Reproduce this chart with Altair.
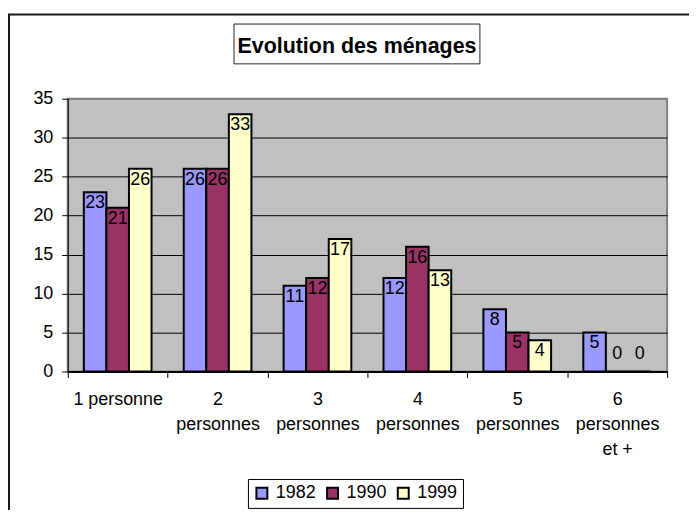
import altair as alt
import pandas as pd

categories = ["1 personne", "2|personnes", "3|personnes", "4|personnes", "5|personnes", "6|personnes|et +"]
years = ["1982", "1990", "1999"]
v1982 = [23, 26, 11, 12, 8, 5]
v1990 = [21, 26, 12, 16, 5, 0]
v1999 = [26, 33, 17, 13, 4, 0]
colors = ["#9999FF", "#993366", "#FFFFCC"]
y_ticks = [0, 5, 10, 15, 20, 25, 30, 35]
title_text = "Evolution des ménages"

rows = []
for i, c in enumerate(categories):
    for yr, vals in zip(years, [v1982, v1990, v1999]):
        rows.append({"cat": c, "year": yr, "value": vals[i]})
df = pd.DataFrame(rows)

FONT = "Liberation Sans"

x_enc = alt.X(
    "cat:N", sort=categories, title=None,
    scale=alt.Scale(paddingInner=0, paddingOuter=0),
    axis=alt.Axis(
        labelAngle=0, labelExpr="split(datum.label, '|')",
        labelFontSize=18, labelFont=FONT, labelColor="black",
        labelLineHeight=25, tickBand="extent", tickSize=6, labelPadding=13,
        domainColor="black", domainWidth=2, tickColor="black", tickWidth=1,
        labelLimit=300,
    ),
)
xoff_enc = alt.XOffset("year:N", sort=years, scale=alt.Scale(paddingInner=0, paddingOuter=0.713))
y_scale = alt.Scale(domain=[0, 35], nice=False)
y_axis = alt.Axis(
    values=y_ticks, title=None, tickSize=6, labelPadding=9, grid=True,
    gridColor={"condition": {"test": "datum.value === 35", "value": "#808080"}, "value": "black"},
    gridWidth=1, labelFontSize=18, labelFont=FONT, labelColor="black",
    domainColor="black", domainWidth=1, tickColor="black",
)

base = alt.Chart(df)

bars = base.mark_bar(stroke="black", strokeWidth=2).encode(
    x=x_enc,
    xOffset=xoff_enc,
    y=alt.Y("value:Q", scale=y_scale, axis=y_axis),
    color=alt.Color(
        "year:N", sort=years, scale=alt.Scale(domain=years, range=colors),
        legend=alt.Legend(
            title=None, orient="none", legendX=181, legendY=382,
            direction="horizontal", symbolType="square", symbolSize=121,
            symbolStrokeColor="black", symbolStrokeWidth=2,
            labelFontSize=18, labelFont=FONT, labelColor="black",
            labelOffset=5, columnPadding=6, padding=5,
            strokeColor="black", fillColor="white",
        ),
    ),
)

labels = base.transform_calculate(ly="max(datum.value, 3.7)").mark_text(
    baseline="top", dy=2, fontSize=18, font=FONT, color="black"
).encode(
    x=x_enc,
    xOffset=xoff_enc,
    y=alt.Y("ly:Q", scale=y_scale, axis=y_axis),
    text="value:Q",
)

one = alt.Data(values=[{"t": title_text}])

outer = alt.Chart(one).mark_rect(fillOpacity=0, stroke="#1a1a1a", strokeWidth=2).encode(
    x=alt.value(-59), x2=alt.value(700), y=alt.value(-84.5), y2=alt.value(600)
)
title_box = alt.Chart(one).mark_rect(fill="white", stroke="#222222", strokeWidth=1).encode(
    x=alt.value(167), x2=alt.value(414), y=alt.value(-75), y2=alt.value(-35)
)
title = alt.Chart(one).mark_text(
    fontSize=21.5, fontWeight="bold", font=FONT, baseline="alphabetic", align="center", color="black"
).encode(x=alt.value(290.5), y=alt.value(-46.3), text="t:N")

chart = alt.layer(outer, title_box, title, bars, labels).properties(
    width=602, height=274,
    autosize=alt.AutoSizeParams(type="none"),
    padding={"left": 60, "top": 90, "right": 22, "bottom": 138},
    background="white",
).configure_view(
    fill="#C0C0C0", stroke="#808080", strokeWidth=2
)

chart.save("out.html", embed_options={"renderer": "svg", "actions": False})
